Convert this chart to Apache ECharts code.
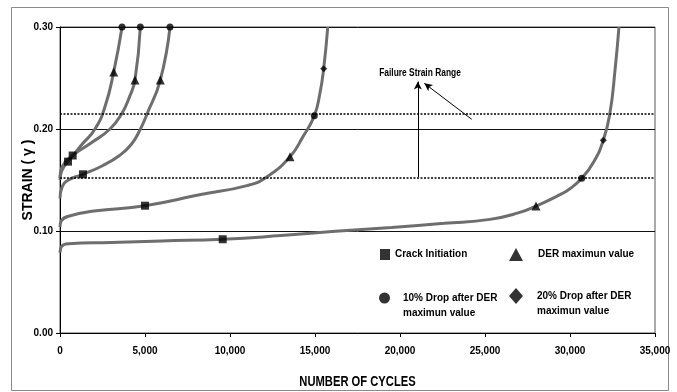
<!DOCTYPE html>
<html>
<head>
<meta charset="utf-8">
<script src="https://cdn.jsdelivr.net/npm/echarts@6/dist/echarts.min.js"></script>
<style>
  html, body { margin: 0; padding: 0; background: #fff; }
  #chart { width: 677px; height: 392px; }
</style>
</head>
<body>
<div id="chart"></div>
<script>
// Strain vs. number of cycles for five specimens, with damage markers.
const curve1 = [[0,0.150],[100,0.159],[470,0.168],[1300,0.185],[2060,0.200],[2650,0.222],[3160,0.256],[3650,0.300]];
const curve2 = [[0,0.152],[120,0.163],[745,0.174],[1800,0.186],[2940,0.200],[3630,0.215],[4100,0.232],[4410,0.248],[4725,0.300]];
const curve3 = [[0,0.132],[120,0.143],[500,0.150],[1350,0.1556],[2500,0.164],[3500,0.174],[4200,0.185],[4700,0.199],[5100,0.214],[5900,0.248],[6470,0.300]];
const curve4 = [[0,0.104],[80,0.110],[500,0.1145],[2000,0.1195],[5000,0.1248],[8200,0.1355],[11000,0.1445],[12160,0.153],[13530,0.1729],[14310,0.193],[14960,0.213],[15290,0.235],[15510,0.259],[15750,0.300]];
const curve5 = [[0,0.079],[100,0.085],[500,0.0875],[3000,0.0888],[6000,0.0903],[9570,0.0919],[13000,0.0955],[16000,0.0995],[19500,0.1035],[22600,0.1075],[25290,0.1114],[27000,0.118],[28000,0.1245],[29220,0.134],[30000,0.1415],[30690,0.1517],[31400,0.168],[31960,0.189],[32350,0.2157],[32650,0.258],[32880,0.300]];

const crackInitiation = [[470,0.168],[745,0.174],[1350,0.1556],[5000,0.1248],[9570,0.0919]];
const derMaximum = [[3160,0.256],[4410,0.248],[5900,0.248],[13530,0.1729],[28000,0.1245]];
const drop10 = [[3650,0.300],[4725,0.300],[6470,0.300],[14960,0.213],[30690,0.1517]];
const drop20 = [[15510,0.259],[31960,0.189]];

// Failure strain band limits
const failureBand = [0.152, 0.215];
// Annotation arrows (start -> tip) in data units
const arrowVertical = [[21050,0.153],[21050,0.2465]];
const arrowDiagonal = [[24220,0.2095],[21430,0.2448]];

const xTicks = { min: 0, max: 35000, interval: 5000 };
const yTicks = { min: 0, max: 0.30, interval: 0.10 };

const FONT = "'Liberation Sans', Arial, sans-serif";
const curveColor = '#6e6e6e';

const chart = echarts.init(document.getElementById('chart'), null, { renderer: 'canvas' });

function curveSeries(name, data, extra) {
  return Object.assign({
    name: name,
    type: 'line',
    data: data,
    smooth: 0.5,
    showSymbol: false,
    symbol: 'none',
    lineStyle: { color: curveColor, width: 3 },
    itemStyle: { color: curveColor },
    z: 2,
    silent: true
  }, extra || {});
}

function markerSeries(name, data, symbol, size) {
  return {
    name: name,
    type: 'scatter',
    data: data,
    symbol: symbol,
    symbolSize: size,
    itemStyle: { color: '#000' },
    clip: false,
    z: 5,
    silent: true
  };
}

const legendText = { fontFamily: FONT, fontWeight: 'bold', fontSize: 10, color: '#000' };

const option = {
  animation: false,
  backgroundColor: '#fff',
  grid: {
    left: 60, right: 22, top: 27, bottom: 59,
    show: true, borderColor: '#555', borderWidth: 1
  },
  xAxis: {
    type: 'value',
    min: xTicks.min, max: xTicks.max, interval: xTicks.interval,
    axisLine: { show: true, lineStyle: { color: '#000', width: 1 } },
    axisTick: { show: true, length: 4, lineStyle: { color: '#000' } },
    axisLabel: {
      margin: 13,
      fontFamily: FONT, fontWeight: 'bold', fontSize: 10, color: '#000',
      formatter: v => v.toLocaleString('en-US')
    },
    splitLine: { show: false }
  },
  yAxis: {
    type: 'value',
    min: yTicks.min, max: yTicks.max, interval: yTicks.interval,
    name: 'STRAIN ( γ )',
    nameLocation: 'middle',
    nameGap: 25,
    nameMoveOverlap: false,
    nameTextStyle: { fontFamily: FONT, fontWeight: 'bold', fontSize: 14, color: '#000' },
    axisLine: { show: true, lineStyle: { color: '#000', width: 1 } },
    axisTick: { show: true, length: 4, lineStyle: { color: '#000' } },
    axisLabel: {
      margin: 7,
      fontFamily: FONT, fontWeight: 'bold', fontSize: 10, color: '#000',
      formatter: v => v.toFixed(2)
    },
    splitLine: { show: true, lineStyle: { color: '#111', width: 1 } }
  },
  legend: [
    {
      data: ['Crack Initiation'], left: 380, top: 249, padding: 0,
      selectedMode: false, icon: 'rect', itemWidth: 10, itemHeight: 11,
      textStyle: legendText
    },
    {
      data: ['DER maximun value'], left: 509, top: 248, padding: 0,
      selectedMode: false, icon: 'triangle', itemWidth: 14, itemHeight: 13,
      textStyle: Object.assign({ padding: [0, 0, 0, 10] }, legendText)
    },
    {
      // leading blank line keeps the marker level with the first text line
      data: ['10% Drop after DER\nmaximun value'], left: 379, top: 275.5, padding: 0,
      selectedMode: false, icon: 'circle', itemWidth: 11, itemHeight: 11,
      formatter: name => '\n' + name,
      textStyle: Object.assign({ padding: [0, 0, 0, 8], lineHeight: 15 }, legendText)
    },
    {
      data: ['20% Drop after DER\nmaximun value'], left: 509, top: 273.5, padding: 0,
      selectedMode: false, icon: 'diamond', itemWidth: 14, itemHeight: 16,
      formatter: name => '\n' + name,
      textStyle: Object.assign({ padding: [0, 0, 0, 9], lineHeight: 15 }, legendText)
    }
  ],
  graphic: [
    {
      type: 'rect', silent: true, z: 0,
      shape: { x: 11.5, y: 7.5, width: 657, height: 383 },
      style: { fill: 'none', stroke: '#8a8a8a', lineWidth: 1 }
    },
    {
      type: 'text', silent: true, z: 10,
      x: 420, y: 73, scaleX: 0.8,
      style: {
        text: 'Failure Strain Range', fontFamily: FONT, fontWeight: 'bold', fontSize: 10.5,
        fill: '#000', align: 'center', verticalAlign: 'middle'
      }
    },
    {
      type: 'text', silent: true, z: 10,
      x: 357.5, y: 382, scaleX: 0.8,
      style: {
        text: 'NUMBER OF CYCLES', fontFamily: FONT, fontWeight: 'bold', fontSize: 14,
        fill: '#000', align: 'center', verticalAlign: 'middle'
      }
    }
  ],
  series: [
    curveSeries('Specimen 1', curve1, {
      markLine: {
        silent: true, animation: false, precision: 4,
        symbol: ['none', 'arrow'], symbolSize: [6, 8],
        label: { show: false },
        lineStyle: { color: '#000', width: 1, type: 'solid' },
        data: [
          [{ coord: arrowVertical[0] }, { coord: arrowVertical[1] }],
          [{ coord: arrowDiagonal[0] }, { coord: arrowDiagonal[1] }]
        ]
      }
    }),
    curveSeries('Specimen 2', curve2, {
      markLine: {
        silent: true, animation: false, precision: 4,
        symbol: ['none', 'none'],
        label: { show: false },
        lineStyle: { color: '#000', width: 1.5, type: [2, 1.5] },
        data: failureBand.map(v => ({ yAxis: v }))
      }
    }),
    curveSeries('Specimen 3', curve3),
    curveSeries('Specimen 4', curve4),
    curveSeries('Specimen 5', curve5),
    markerSeries('Crack Initiation', crackInitiation, 'rect', 8),
    markerSeries('DER maximun value', derMaximum, 'triangle', 9),
    markerSeries('10% Drop after DER\nmaximun value', drop10, 'circle', 7),
    markerSeries('20% Drop after DER\nmaximun value', drop20, 'diamond', 7)
  ]
};

chart.setOption(option);
</script>
</body>
</html>
